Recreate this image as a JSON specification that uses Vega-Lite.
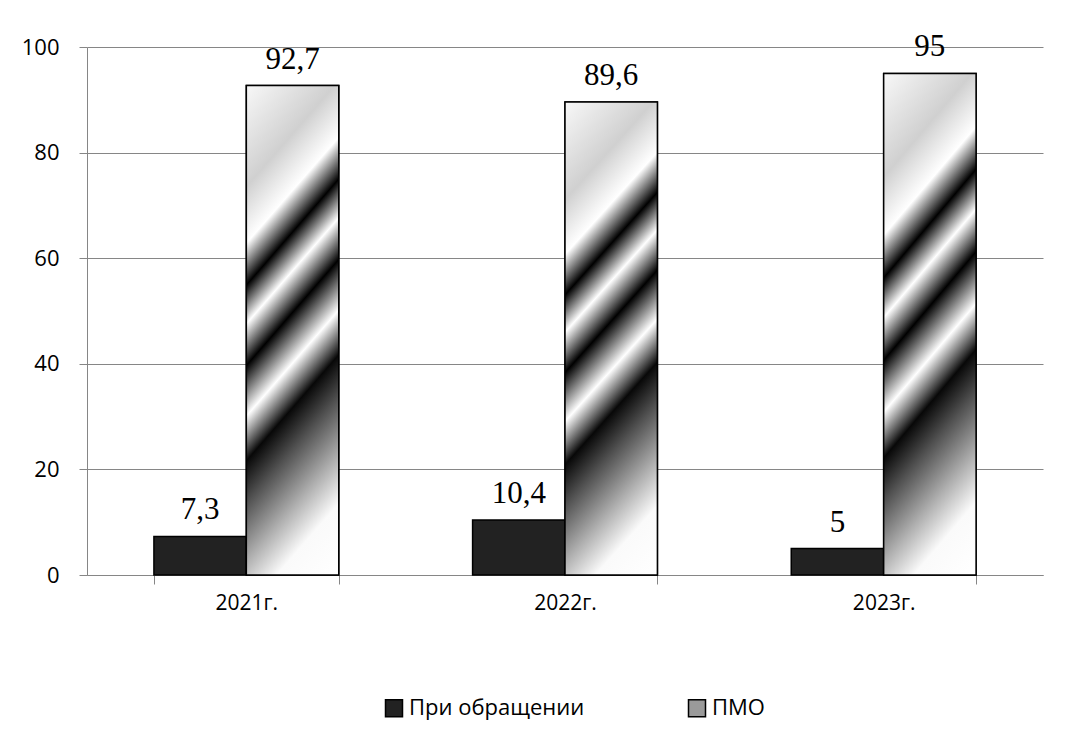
{
  "$schema": "https://vega.github.io/schema/vega-lite/v6.json",
  "width": 956,
  "height": 528,
  "autosize": {"type": "none"},
  "padding": {"left": 87, "top": 47, "right": 33, "bottom": 171},
  "background": "white",
  "data": {
    "values": [
      {"year": "2021г.", "series": "При обращении", "value": 7.3, "label": "7,3"},
      {"year": "2021г.", "series": "ПМО", "value": 92.7, "label": "92,7"},
      {"year": "2022г.", "series": "При обращении", "value": 10.4, "label": "10,4"},
      {"year": "2022г.", "series": "ПМО", "value": 89.6, "label": "89,6"},
      {"year": "2023г.", "series": "При обращении", "value": 5, "label": "5"},
      {"year": "2023г.", "series": "ПМО", "value": 95, "label": "95"}
    ]
  },
  "encoding": {
    "x": {
      "field": "year",
      "type": "nominal",
      "scale": {"paddingInner": 0.42, "paddingOuter": 0.21},
      "axis": {
        "title": null,
        "labelAngle": 0,
        "tickBand": "extent",
        "grid": false,
        "domainColor": "#868686",
        "tickColor": "#868686",
        "tickSize": 9,
        "labelFont": "Open Sans",
        "labelFontSize": 21,
        "labelColor": "#000000",
        "labelPadding": 8
      }
    },
    "xOffset": {
      "field": "series",
      "type": "nominal",
      "scale": {"domain": ["При обращении", "ПМО"], "paddingInner": 0, "paddingOuter": 0}
    },
    "y": {
      "field": "value",
      "type": "quantitative",
      "scale": {"domain": [0, 100], "nice": false},
      "axis": {
        "title": null,
        "values": [0, 20, 40, 60, 80, 100],
        "grid": true,
        "gridColor": "#868686",
        "domainColor": "#868686",
        "tickColor": "#868686",
        "tickSize": 8,
        "labelFont": "Open Sans",
        "labelFontSize": 22,
        "labelColor": "#000000",
        "labelPadding": 20
      }
    }
  },
  "layer": [
    {
      "mark": {"type": "bar", "stroke": "#000000", "strokeWidth": 1.5},
      "encoding": {
        "color": {
          "field": "series",
          "type": "nominal",
          "scale": {
            "domain": ["При обращении", "ПМО"],
            "range": ["#222222", "#9a9a9a"]
          },
          "legend": {
            "title": null,
            "orient": "none",
            "legendX": 296,
            "legendY": 650,
            "direction": "horizontal",
            "padding": 0,
            "symbolType": "square",
            "symbolSize": 289,
            "labelFont": "Open Sans",
            "labelFontSize": 22,
            "labelColor": "#000000",
            "columnPadding": 100,
            "labelLimit": 400,
            "encode": {
              "symbols": {
                "fill": {
                  "condition": {
                    "test": "datum.value === 'ПМО'",
                    "value": {
                      "gradient": "linear",
                      "x1": 1, "y1": 1, "x2": 0, "y2": 0,
                      "stops": [
                        {"offset": 0, "color": "#ffffff"},
                        {"offset": 0.15, "color": "#404040"},
                        {"offset": 0.3, "color": "#ffffff"},
                        {"offset": 0.45, "color": "#404040"},
                        {"offset": 0.6, "color": "#ffffff"},
                        {"offset": 0.75, "color": "#404040"},
                        {"offset": 0.9, "color": "#ffffff"},
                        {"offset": 1, "color": "#808080"}
                      ]
                    }
                  },
                  "value": "#222222"
                },
                "stroke": {"value": "#000000"},
                "strokeWidth": {"value": 1},
                "opacity": {"value": 1}
              }
            }
          }
        }
      }
    },
    {
      "transform": [{"filter": "datum.series === 'ПМО'"}],
      "mark": {
        "type": "bar",
        "stroke": "#000000",
        "strokeWidth": 1.5,
        "color": {
          "gradient": "linear",
          "x1": 1, "y1": 1, "x2": 0.748, "y2": -0.162,
          "stops": [
            {"offset": 0, "color": "#ffffff"},
            {"offset": 0.12, "color": "#fafafa"},
            {"offset": 0.2, "color": "#b0b0b0"},
            {"offset": 0.3, "color": "#505050"},
            {"offset": 0.37, "color": "#080808"},
            {"offset": 0.445, "color": "#ffffff"},
            {"offset": 0.53, "color": "#000000"},
            {"offset": 0.6, "color": "#ffffff"},
            {"offset": 0.665, "color": "#000000"},
            {"offset": 0.735, "color": "#ffffff"},
            {"offset": 0.83, "color": "#d0d0d0"},
            {"offset": 1, "color": "#f8f8f8"}
          ]
        }
      }
    },
    {
      "mark": {
        "type": "text",
        "font": "Liberation Serif",
        "fontSize": 31,
        "dy": -17,
        "baseline": "alphabetic",
        "color": "#000000"
      },
      "encoding": {"text": {"field": "label"}}
    }
  ],
  "config": {"view": {"stroke": null}}
}
